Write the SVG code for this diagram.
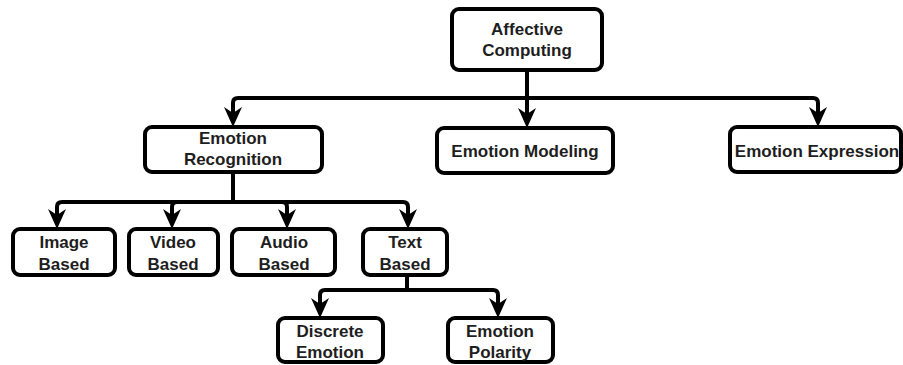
<svg xmlns="http://www.w3.org/2000/svg" width="903" height="365" viewBox="0 0 903 365">
  <style>
    .box { fill: #ffffff; stroke: #000000; stroke-width: 4; }
    .lbl { font-family: "Liberation Sans", Arial, sans-serif; font-weight: bold; font-size: 17px; fill: #1e1e1e; text-anchor: middle; }
    .edge { fill: none; stroke: #000000; stroke-width: 4; marker-end: url(#arrow); }
  </style>
  <defs>
    <marker id="arrow" viewBox="0 0 20 18" refX="8" refY="9" markerWidth="20" markerHeight="18" markerUnits="userSpaceOnUse" orient="auto">
      <path d="M0,0 L20,9 L0,18 L6,9 Z" fill="#000000"/>
    </marker>
  </defs>
  <rect width="903" height="365" fill="#ffffff"/>

  <!-- connectors -->
  <g id="connectors">
    <path class="edge" d="M527,70 V98 H238 Q233,98 233,103 V115"/>
    <path class="edge" d="M527,70 V116"/>
    <path class="edge" d="M527,98 H813 Q818,98 818,103 V115"/>
    <path class="edge" d="M233,172 V202 H62 Q57,202 57,207 V217"/>
    <path class="edge" d="M233,202 H177 Q172,202 172,207 V217"/>
    <path class="edge" d="M233,202 H282 Q287,202 287,207 V217"/>
    <path class="edge" d="M233,202 H403 Q408,202 408,207 V217"/>
    <path class="edge" d="M407,275 V290 H325 Q320,290 320,295 V306"/>
    <path class="edge" d="M407,290 H493 Q498,290 498,295 V306"/>
  </g>

  <!-- nodes -->
  <g id="affective-computing">
    <rect class="box" x="452" y="9" width="150" height="61" rx="7"/>
    <text class="lbl" x="527" y="35">Affective</text>
    <text class="lbl" x="527" y="56">Computing</text>
  </g>
  <g id="emotion-recognition">
    <rect class="box" x="145" y="127" width="177" height="45" rx="7"/>
    <text class="lbl" x="233" y="144">Emotion</text>
    <text class="lbl" x="233" y="165">Recognition</text>
  </g>
  <g id="emotion-modeling">
    <rect class="box" x="437" y="128" width="176" height="45" rx="7"/>
    <text class="lbl" x="525" y="157">Emotion Modeling</text>
  </g>
  <g id="emotion-expression">
    <rect class="box" x="730" y="127" width="171" height="45" rx="7"/>
    <text class="lbl" x="817" y="157">Emotion Expression</text>
  </g>
  <g id="image-based">
    <rect class="box" x="13" y="229" width="102" height="46" rx="7"/>
    <text class="lbl" x="64" y="248">Image</text>
    <text class="lbl" x="64" y="270">Based</text>
  </g>
  <g id="video-based">
    <rect class="box" x="129" y="229" width="89" height="46" rx="7"/>
    <text class="lbl" x="173" y="248">Video</text>
    <text class="lbl" x="173" y="270">Based</text>
  </g>
  <g id="audio-based">
    <rect class="box" x="232" y="229" width="103" height="46" rx="7"/>
    <text class="lbl" x="284" y="248">Audio</text>
    <text class="lbl" x="284" y="270">Based</text>
  </g>
  <g id="text-based">
    <rect class="box" x="363" y="229" width="84" height="46" rx="7"/>
    <text class="lbl" x="405" y="248">Text</text>
    <text class="lbl" x="405" y="270">Based</text>
  </g>
  <g id="discrete-emotion">
    <rect class="box" x="278" y="318" width="105" height="44" rx="7"/>
    <text class="lbl" x="330" y="337">Discrete</text>
    <text class="lbl" x="330" y="358">Emotion</text>
  </g>
  <g id="emotion-polarity">
    <rect class="box" x="448" y="318" width="105" height="44" rx="7"/>
    <text class="lbl" x="500" y="337">Emotion</text>
    <text class="lbl" x="500" y="358">Polarity</text>
  </g>
</svg>
